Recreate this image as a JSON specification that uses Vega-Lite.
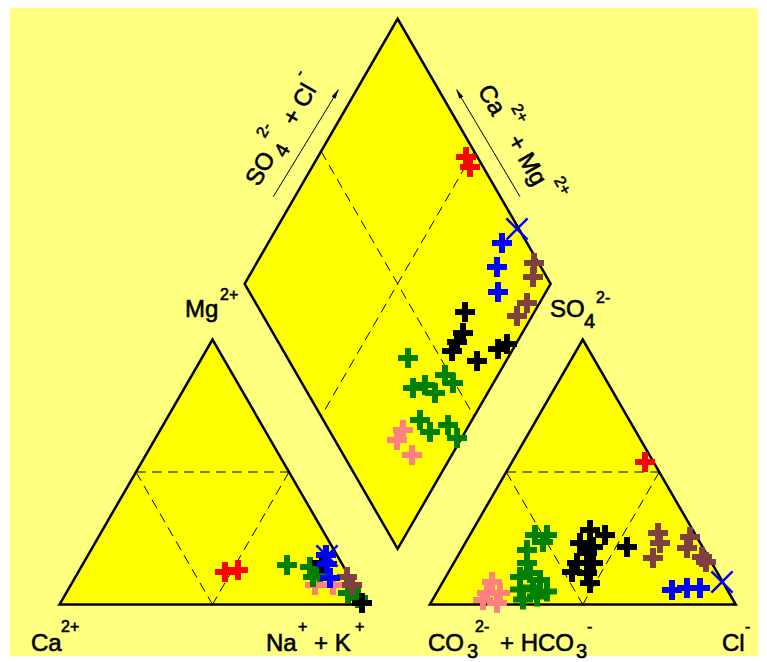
{
  "$schema": "https://vega.github.io/schema/vega-lite/v6.json",
  "width": 767,
  "height": 662,
  "autosize": {"type": "none"},
  "padding": 0,
  "background": "white",
  "config": {"view": {"stroke": null}},
  "encoding": {
    "x": {"field": "x", "type": "quantitative", "scale": {"domain": [-19.44, 231.21], "nice": false, "zero": false}, "axis": null},
    "y": {"field": "y", "type": "quantitative", "scale": {"domain": [-18.79, 197.55], "nice": false, "zero": false}, "axis": null}
  },
  "datasets": {
    "bg": [{"x": -16.18, "x2": 228.27, "y": 194.93, "y2": -16.83}],
    "shapes": [
      {"shape": "left", "x": 0, "y": 0, "y2": 0},
      {"shape": "left", "x": 50, "y": 86.6, "y2": 0},
      {"shape": "left", "x": 100, "y": 0, "y2": 0},
      {"shape": "diamond", "x": 60.5, "y": 104.79, "y2": 104.79},
      {"shape": "diamond", "x": 110.5, "y": 191.39, "y2": 18.19},
      {"shape": "diamond", "x": 160.5, "y": 104.79, "y2": 104.79},
      {"shape": "right", "x": 121, "y": 0, "y2": 0},
      {"shape": "right", "x": 171, "y": 86.6, "y2": 0},
      {"shape": "right", "x": 221, "y": 0, "y2": 0}
    ],
    "dashes": [
      {"x": 25, "y": 43.3, "x2": 75, "y2": 43.3},
      {"x": 25, "y": 43.3, "x2": 50, "y2": 0},
      {"x": 75, "y": 43.3, "x2": 50, "y2": 0},
      {"x": 146, "y": 43.3, "x2": 196, "y2": 43.3},
      {"x": 146, "y": 43.3, "x2": 171, "y2": 0},
      {"x": 196, "y": 43.3, "x2": 171, "y2": 0},
      {"x": 85.5, "y": 148.09, "x2": 135.5, "y2": 61.49},
      {"x": 135.5, "y": 148.09, "x2": 85.5, "y2": 61.49}
    ],
    "arrows": [
      {"dir": "left", "x": 69.87, "y": 133.27, "x2": 91.11, "y2": 168.14, "hx": 90.42, "hy": 167.03},
      {"dir": "right", "x": 150.49, "y": 133.27, "x2": 129.8, "y2": 168.14, "hx": 130.46, "hy": 167.03}
    ],
    "pluses": [
      {"g": "pink", "x": 112.25, "y": 57.03}, {"g": "pink", "x": 110.29, "y": 53.76}, {"g": "pink", "x": 115.2, "y": 48.86},
      {"g": "pink", "x": 83.5, "y": 6.37}, {"g": "pink", "x": 89.38, "y": 6.37},
      {"g": "pink", "x": 141.34, "y": 7.35}, {"g": "pink", "x": 139.71, "y": 3.76}, {"g": "pink", "x": 143.95, "y": 3.76}, {"g": "pink", "x": 138.4, "y": 1.47}, {"g": "pink", "x": 142.97, "y": 0.49},
      {"g": "green", "x": 113.89, "y": 80.56}, {"g": "green", "x": 115.52, "y": 70.75}, {"g": "green", "x": 119.44, "y": 71.73}, {"g": "green", "x": 122.71, "y": 69.12}, {"g": "green", "x": 125.98, "y": 75.0}, {"g": "green", "x": 128.59, "y": 72.39}, {"g": "green", "x": 117.81, "y": 60.29}, {"g": "green", "x": 121.08, "y": 56.37}, {"g": "green", "x": 126.96, "y": 58.66}, {"g": "green", "x": 129.9, "y": 54.41},
      {"g": "green", "x": 74.35, "y": 12.91}, {"g": "green", "x": 81.86, "y": 12.25}, {"g": "green", "x": 82.84, "y": 8.99}, {"g": "green", "x": 85.13, "y": 10.62}, {"g": "green", "x": 94.28, "y": 3.76}, {"g": "green", "x": 97.55, "y": 2.12},
      {"g": "green", "x": 155.39, "y": 22.71}, {"g": "green", "x": 159.31, "y": 22.71}, {"g": "green", "x": 158.01, "y": 20.42}, {"g": "green", "x": 152.78, "y": 17.81}, {"g": "green", "x": 152.78, "y": 13.56}, {"g": "green", "x": 153.76, "y": 10.29}, {"g": "green", "x": 150.49, "y": 8.99}, {"g": "green", "x": 157.03, "y": 8.01}, {"g": "green", "x": 150.49, "y": 4.9}, {"g": "green", "x": 154.74, "y": 5.56}, {"g": "green", "x": 159.31, "y": 4.25}, {"g": "green", "x": 151.47, "y": 1.63}, {"g": "green", "x": 156.05, "y": 2.61},
      {"g": "black", "x": 132.52, "y": 95.59}, {"g": "black", "x": 131.86, "y": 88.73}, {"g": "black", "x": 129.9, "y": 85.78}, {"g": "black", "x": 128.27, "y": 82.84}, {"g": "black", "x": 136.44, "y": 79.58}, {"g": "black", "x": 143.3, "y": 83.5}, {"g": "black", "x": 146.24, "y": 85.13},
      {"g": "black", "x": 85.78, "y": 13.56}, {"g": "black", "x": 98.86, "y": 0.49},
      {"g": "black", "x": 173.37, "y": 24.35}, {"g": "black", "x": 178.27, "y": 22.71}, {"g": "black", "x": 170.1, "y": 20.1}, {"g": "black", "x": 174.35, "y": 18.79}, {"g": "black", "x": 172.39, "y": 16.83}, {"g": "black", "x": 169.12, "y": 13.56}, {"g": "black", "x": 174.35, "y": 13.56}, {"g": "black", "x": 167.48, "y": 10.62}, {"g": "black", "x": 172.39, "y": 10.29}, {"g": "black", "x": 173.37, "y": 7.03}, {"g": "black", "x": 185.46, "y": 18.79},
      {"g": "brown", "x": 155.07, "y": 111.6}, {"g": "brown", "x": 154.74, "y": 107.03}, {"g": "brown", "x": 152.78, "y": 98.53}, {"g": "brown", "x": 149.51, "y": 94.28},
      {"g": "brown", "x": 93.95, "y": 8.99}, {"g": "brown", "x": 95.59, "y": 6.37},
      {"g": "brown", "x": 195.59, "y": 23.37}, {"g": "brown", "x": 196.24, "y": 20.1}, {"g": "brown", "x": 193.95, "y": 15.2}, {"g": "brown", "x": 206.05, "y": 22.06}, {"g": "brown", "x": 205.07, "y": 18.46}, {"g": "brown", "x": 209.97, "y": 15.52}, {"g": "brown", "x": 211.27, "y": 13.89},
      {"g": "red", "x": 132.84, "y": 146.24}, {"g": "red", "x": 134.15, "y": 142.97},
      {"g": "red", "x": 54.08, "y": 10.62}, {"g": "red", "x": 58.33, "y": 11.27},
      {"g": "red", "x": 191.34, "y": 46.57},
      {"g": "blue", "x": 144.61, "y": 118.14}, {"g": "blue", "x": 142.97, "y": 110.29}, {"g": "blue", "x": 143.3, "y": 102.12},
      {"g": "blue", "x": 87.09, "y": 16.18}, {"g": "blue", "x": 87.42, "y": 13.24}, {"g": "blue", "x": 88.4, "y": 8.66},
      {"g": "blue", "x": 200.16, "y": 4.74}, {"g": "blue", "x": 205.07, "y": 5.39}, {"g": "blue", "x": 209.31, "y": 5.39}
    ],
    "crosses": [
      {"g": "blue", "x": 149.51, "y": 122.71},
      {"g": "blue", "x": 87.42, "y": 15.85},
      {"g": "blue", "x": 216.5, "y": 7.35}
    ],
    "labels": [
      {"o": "h", "t": "Ca", "role": "main", "x": -9.31, "y": -15.2},
      {"o": "h", "t": "2+", "role": "sup", "x": 0.49, "y": -8.99},
      {"o": "h", "t": "Na", "role": "main", "x": 67.48, "y": -15.2},
      {"o": "h", "t": "+", "role": "sup", "x": 77.94, "y": -8.99},
      {"o": "h", "t": "+ K", "role": "main", "x": 83.17, "y": -15.2},
      {"o": "h", "t": "+", "role": "sup", "x": 96.57, "y": -8.99},
      {"o": "h", "t": "CO", "role": "main", "x": 120.42, "y": -15.2},
      {"o": "h", "t": "3", "role": "sub", "x": 133.17, "y": -17.48},
      {"o": "h", "t": "2-", "role": "sup", "x": 135.78, "y": -8.99},
      {"o": "h", "t": "+ HCO", "role": "main", "x": 143.95, "y": -15.2},
      {"o": "h", "t": "3", "role": "sub", "x": 168.79, "y": -17.48},
      {"o": "h", "t": "-", "role": "sup", "x": 172.39, "y": -8.99},
      {"o": "h", "t": "Cl", "role": "main", "x": 216.5, "y": -15.2},
      {"o": "h", "t": "-", "role": "sup", "x": 224.02, "y": -8.99},
      {"o": "h", "t": "Mg", "role": "main", "x": 41.01, "y": 93.95},
      {"o": "h", "t": "2+", "role": "sup", "x": 52.45, "y": 99.51},
      {"o": "h", "t": "SO", "role": "main", "x": 160.29, "y": 93.95},
      {"o": "h", "t": "4", "role": "sub", "x": 171.41, "y": 90.36},
      {"o": "h", "t": "2-", "role": "sup", "x": 175.33, "y": 98.53},
      {"o": "l", "t": "SO", "role": "main", "x": 65.0, "y": 136.24},
      {"o": "l", "t": "4", "role": "sub", "x": 73.68, "y": 145.75},
      {"o": "l", "t": "2-", "role": "sup", "x": 67.08, "y": 152.19},
      {"o": "l", "t": "+ Cl", "role": "main", "x": 77.06, "y": 156.01},
      {"o": "l", "t": "-", "role": "sup", "x": 79.41, "y": 172.12},
      {"o": "r", "t": "Ca", "role": "main", "x": 136.56, "y": 167.95},
      {"o": "r", "t": "2+", "role": "sup", "x": 147.48, "y": 162.33},
      {"o": "r", "t": "+ Mg", "role": "main", "x": 146.21, "y": 151.63},
      {"o": "r", "t": "2+", "role": "sup", "x": 161.48, "y": 138.64}
    ]
  },
  "layer": [
    {
      "data": {"name": "bg"},
      "mark": {"type": "rect", "fill": "#FFFF80"},
      "encoding": {"x2": {"field": "x2"}, "y2": {"field": "y2"}}
    },
    {
      "data": {"name": "shapes"},
      "mark": {"type": "area", "fill": "#FFFF00", "stroke": "black", "strokeWidth": 2.5, "strokeJoin": "miter", "fillOpacity": 1},
      "encoding": {"y2": {"field": "y2"}, "detail": {"field": "shape"}}
    },
    {
      "data": {"name": "dashes"},
      "mark": {"type": "rule", "color": "black", "strokeWidth": 1, "strokeDash": [10, 6]},
      "encoding": {"x2": {"field": "x2"}, "y2": {"field": "y2"}}
    },
    {
      "data": {"name": "arrows"},
      "mark": {"type": "rule", "color": "black", "strokeWidth": 1},
      "encoding": {"x2": {"field": "x2"}, "y2": {"field": "y2"}}
    },
    {
      "data": {"name": "arrows"},
      "transform": [{"filter": "datum.dir === 'left'"}],
      "mark": {"type": "point", "shape": "M0,-1L0.45,1L-0.45,1Z", "filled": true, "color": "black", "size": 100, "angle": 31, "opacity": 1},
      "encoding": {"x": {"field": "hx", "type": "quantitative"}, "y": {"field": "hy", "type": "quantitative"}}
    },
    {
      "data": {"name": "arrows"},
      "transform": [{"filter": "datum.dir === 'right'"}],
      "mark": {"type": "point", "shape": "M0,-1L0.45,1L-0.45,1Z", "filled": true, "color": "black", "size": 100, "angle": -31, "opacity": 1},
      "encoding": {"x": {"field": "hx", "type": "quantitative"}, "y": {"field": "hy", "type": "quantitative"}}
    },
    {
      "data": {"name": "pluses"},
      "mark": {"type": "point", "shape": "M-1,0L1,0M0,-1L0,1", "filled": false, "strokeWidth": 6, "size": 400, "opacity": 1},
      "encoding": {
        "color": {"field": "g", "type": "nominal", "legend": null,
          "scale": {"domain": ["red", "blue", "brown", "black", "green", "pink"], "range": ["#FF0000", "#0000FF", "#804040", "#000000", "#008000", "#FF8080"]}}
      }
    },
    {
      "data": {"name": "crosses"},
      "mark": {"type": "point", "shape": "M-1,-1L1,1M-1,1L1,-1", "filled": false, "strokeWidth": 2.5, "size": 450, "opacity": 1},
      "encoding": {"color": {"field": "g", "type": "nominal", "legend": null}}
    },
    {
      "data": {"name": "labels"},
      "transform": [{"filter": "datum.o === 'h'"}],
      "mark": {"type": "text", "font": "Liberation Sans", "align": "left", "baseline": "alphabetic", "fill": "#000000", "stroke": "#000000", "strokeWidth": 0.6},
      "encoding": {
        "text": {"field": "t"},
        "size": {"field": "role", "type": "nominal", "legend": null, "scale": {"type": "ordinal", "domain": ["main", "sub", "sup"], "range": [24, 20, 16]}}
      }
    },
    {
      "data": {"name": "labels"},
      "transform": [{"filter": "datum.o === 'l'"}],
      "mark": {"type": "text", "font": "Liberation Sans", "align": "left", "baseline": "alphabetic", "fill": "#000000", "stroke": "#000000", "strokeWidth": 0.6, "angle": -60},
      "encoding": {
        "text": {"field": "t"},
        "size": {"field": "role", "type": "nominal", "legend": null, "scale": {"type": "ordinal", "domain": ["main", "sub", "sup"], "range": [24, 20, 16]}}
      }
    },
    {
      "data": {"name": "labels"},
      "transform": [{"filter": "datum.o === 'r'"}],
      "mark": {"type": "text", "font": "Liberation Sans", "align": "left", "baseline": "alphabetic", "fill": "#000000", "stroke": "#000000", "strokeWidth": 0.6, "angle": 60},
      "encoding": {
        "text": {"field": "t"},
        "size": {"field": "role", "type": "nominal", "legend": null, "scale": {"type": "ordinal", "domain": ["main", "sub", "sup"], "range": [24, 20, 16]}}
      }
    }
  ]
}
